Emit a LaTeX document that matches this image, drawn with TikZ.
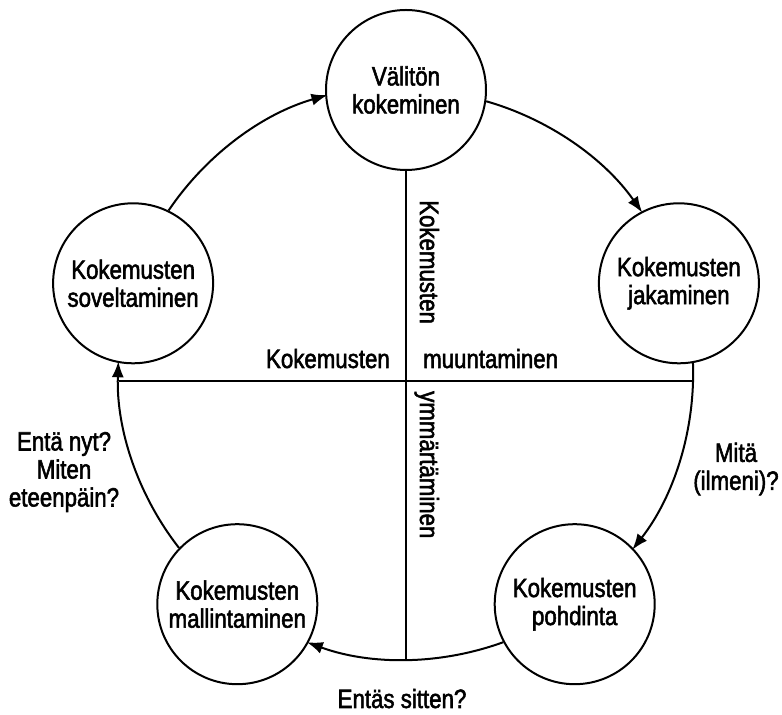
\documentclass[tikz,border=0pt]{standalone}
\usepackage{fontspec}
\setmainfont{Liberation Sans}[FakeStretch=0.84,FakeBold=2]
\usetikzlibrary{arrows.meta}
\newcommand{\bigfont}{\fontsize{26.5}{28}\selectfont}
\tikzset{
  stage/.style={circle, draw, line width=2pt, minimum size=160pt, inner sep=0pt, align=center, font=\bigfont},
  cyc/.style={line width=2pt, -{Latex[length=16pt,width=12pt]}},
  axisline/.style={line width=1.8pt},
  lbl/.style={font=\bigfont, inner sep=0pt},
}
\begin{document}
\begin{tikzpicture}[x=1pt,y=1pt]
\useasboundingbox (0,0) rectangle (782,715);
\node[stage] (T) at (406,625) {Välitön\\kokeminen};
\node[stage] (R) at (678.9,431.7) {Kokemusten\\jakaminen};
\node[stage] (BR) at (574.7,110.8) {Kokemusten\\pohdinta};
\node[stage] (BL) at (237.3,110.8) {Kokemusten\\mallintaminen};
\node[stage] (L) at (133.1,431.7) {Kokemusten\\soveltaminen};
\draw[cyc] (L.64) arc[start angle=146, end angle=106, radius=287pt];
\draw[cyc] (T.-8) arc[start angle=74, end angle=35, radius=287pt];
\draw[cyc] (R.-80) arc[start angle=2, end angle=-38, radius=287pt];
\draw[cyc] (BR.-152) arc[start angle=-70, end angle=-110, radius=287pt];
\draw[cyc] (BL.136) arc[start angle=-142, end angle=-182, radius=287pt];
\coordinate (hl) at (119.1,334);
\coordinate (hr) at (692.9,334);
\coordinate (vb) at (406,56);
\draw[axisline] (hl) -- (hr);
\draw[axisline] (T.south) -- (vb);
\node[lbl, anchor=base east] (k1) at (390,347) {Kokemusten};
\node[lbl, anchor=base west] (k2) at (423,347) {muuntaminen};
\node[lbl, rotate=-90, anchor=base west] (k3) at (420,515) {Kokemusten};
\node[lbl, rotate=-90, anchor=base west] (k4) at (420,324) {ymmärtäminen};
\node[lbl, align=center] (q1) at (64,243) {Entä nyt?\\Miten\\eteenpäin?};
\node[lbl, align=center] (q2) at (736,246) {Mitä\\(ilmeni)?};
\node[lbl, anchor=base] (q3) at (402,7) {Entäs sitten?};
\end{tikzpicture}
\end{document}
